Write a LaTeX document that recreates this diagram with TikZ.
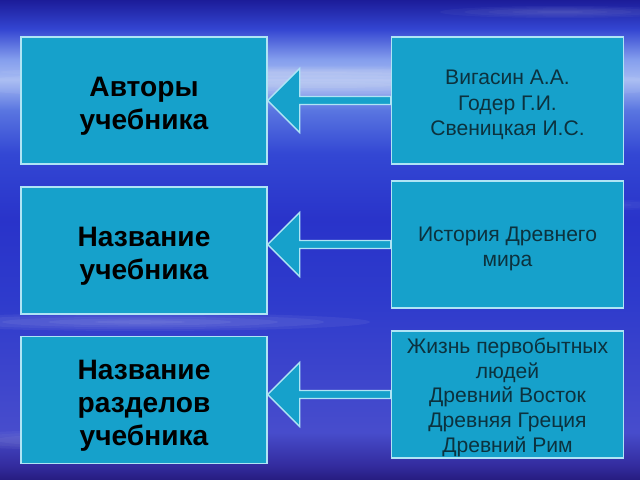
\documentclass[tikz,border=0pt]{standalone}
\usepackage{fontspec}
\setmainfont{Liberation Sans}
\usetikzlibrary{calc}
\definecolor{boxteal}{RGB}{22,161,203}
\definecolor{rim}{RGB}{175,228,245}
\definecolor{inkteal}{RGB}{12,50,62}
\newcommand\topstrut{\rule{0pt}{1.1em}}
\pgfdeclareverticalshading{skyfade}{100bp}{
  rgb(0bp)=(0.15,0.11,0.50);
  rgb(25bp)=(0.15,0.11,0.50);
  rgb(26.5bp)=(0.20,0.17,0.62);
  rgb(30bp)=(0.28,0.30,0.80);
  rgb(44bp)=(0.18,0.23,0.80);
  rgb(52bp)=(0.16,0.20,0.79);
  rgb(59bp)=(0.20,0.28,0.83);
  rgb(63.5bp)=(0.35,0.46,0.88);
  rgb(66.7bp)=(0.65,0.73,0.95);
  rgb(68.8bp)=(0.52,0.62,0.93);
  rgb(72bp)=(0.20,0.27,0.82);
  rgb(75bp)=(0.11,0.11,0.60);
  rgb(100bp)=(0.11,0.11,0.60)}
\tikzset{
  topicbox/.style={draw=rim, line width=1pt, fill=boxteal, inner sep=0pt,
    minimum width=6.15cm, minimum height=3.175cm, align=center,
    font=\fontsize{20}{23.6}\selectfont\bfseries, text=black},
  answerbox/.style={draw=rim, line width=1pt, fill=boxteal, inner sep=0pt,
    minimum width=5.8cm, minimum height=3.175cm, align=center,
    font=\fontsize{15}{18}\selectfont, text=inkteal},
  hollowarrow/.style={draw=rim, line width=1pt, fill=boxteal, line join=miter}
}
\begin{document}
\begin{tikzpicture}[x=0.025cm, y=-0.025cm]
    % sky background
    \shade[shading=skyfade] (0,0) rectangle (640,480);
    \useasboundingbox (0,0) rectangle (640,480);
    \foreach \x/\y/\a/\b/\o in {320/85/360/16/.30, 300/72/300/6/.20, 140/322/230/9/.28, 80/440/140/10/.22, 560/205/120/6/.15, 560/12/120/6/.18}{
      \foreach \k in {1,...,5}{
        \pgfmathsetmacro\op{\o/5}
        \fill[white, opacity=\op] (\x,\y) ellipse ({\a*\k/5} and {\b*\k/5});
      }
    }
    % left column
    \node[topicbox] (l1) at (144,100.5) {\topstrut Авторы\\ учебника};
    \node[topicbox] (l2) at (144,250.5) {\topstrut Название\\учебника};
    \node[topicbox] (l3) at (144,400) {\topstrut Название\\ разделов\\учебника};
    % right column
    \node[answerbox] (r1) at (507.5,100.5) {\topstrut Вигасин А.А.\\Годер Г.И.\\Свеницкая И.С.};
    \node[answerbox] (r2) at (507.5,244.5) {\topstrut История Древнего\\мира};
    \node[answerbox, font=\fontsize{15}{17.5}\selectfont] (r3) at (507.5,394.5) {\rule{0pt}{1em}Жизнь первобытных\\людей\\Древний Восток\\Древняя Греция\\Древний Рим};
    % block arrows pointing left
    \foreach \i in {1,2,3}{
      \draw[hollowarrow] (l\i.east |- r\i.west) coordinate (t\i)
        -- ($(t\i)+(32,-32)$) -- ($(t\i)+(32,-4)$)
        -- ($(r\i.west)+(0,-4)$) -- ($(r\i.west)+(0,4)$)
        -- ($(t\i)+(32,4)$) -- ($(t\i)+(32,32)$) -- cycle;
    }
\end{tikzpicture}
\end{document}
